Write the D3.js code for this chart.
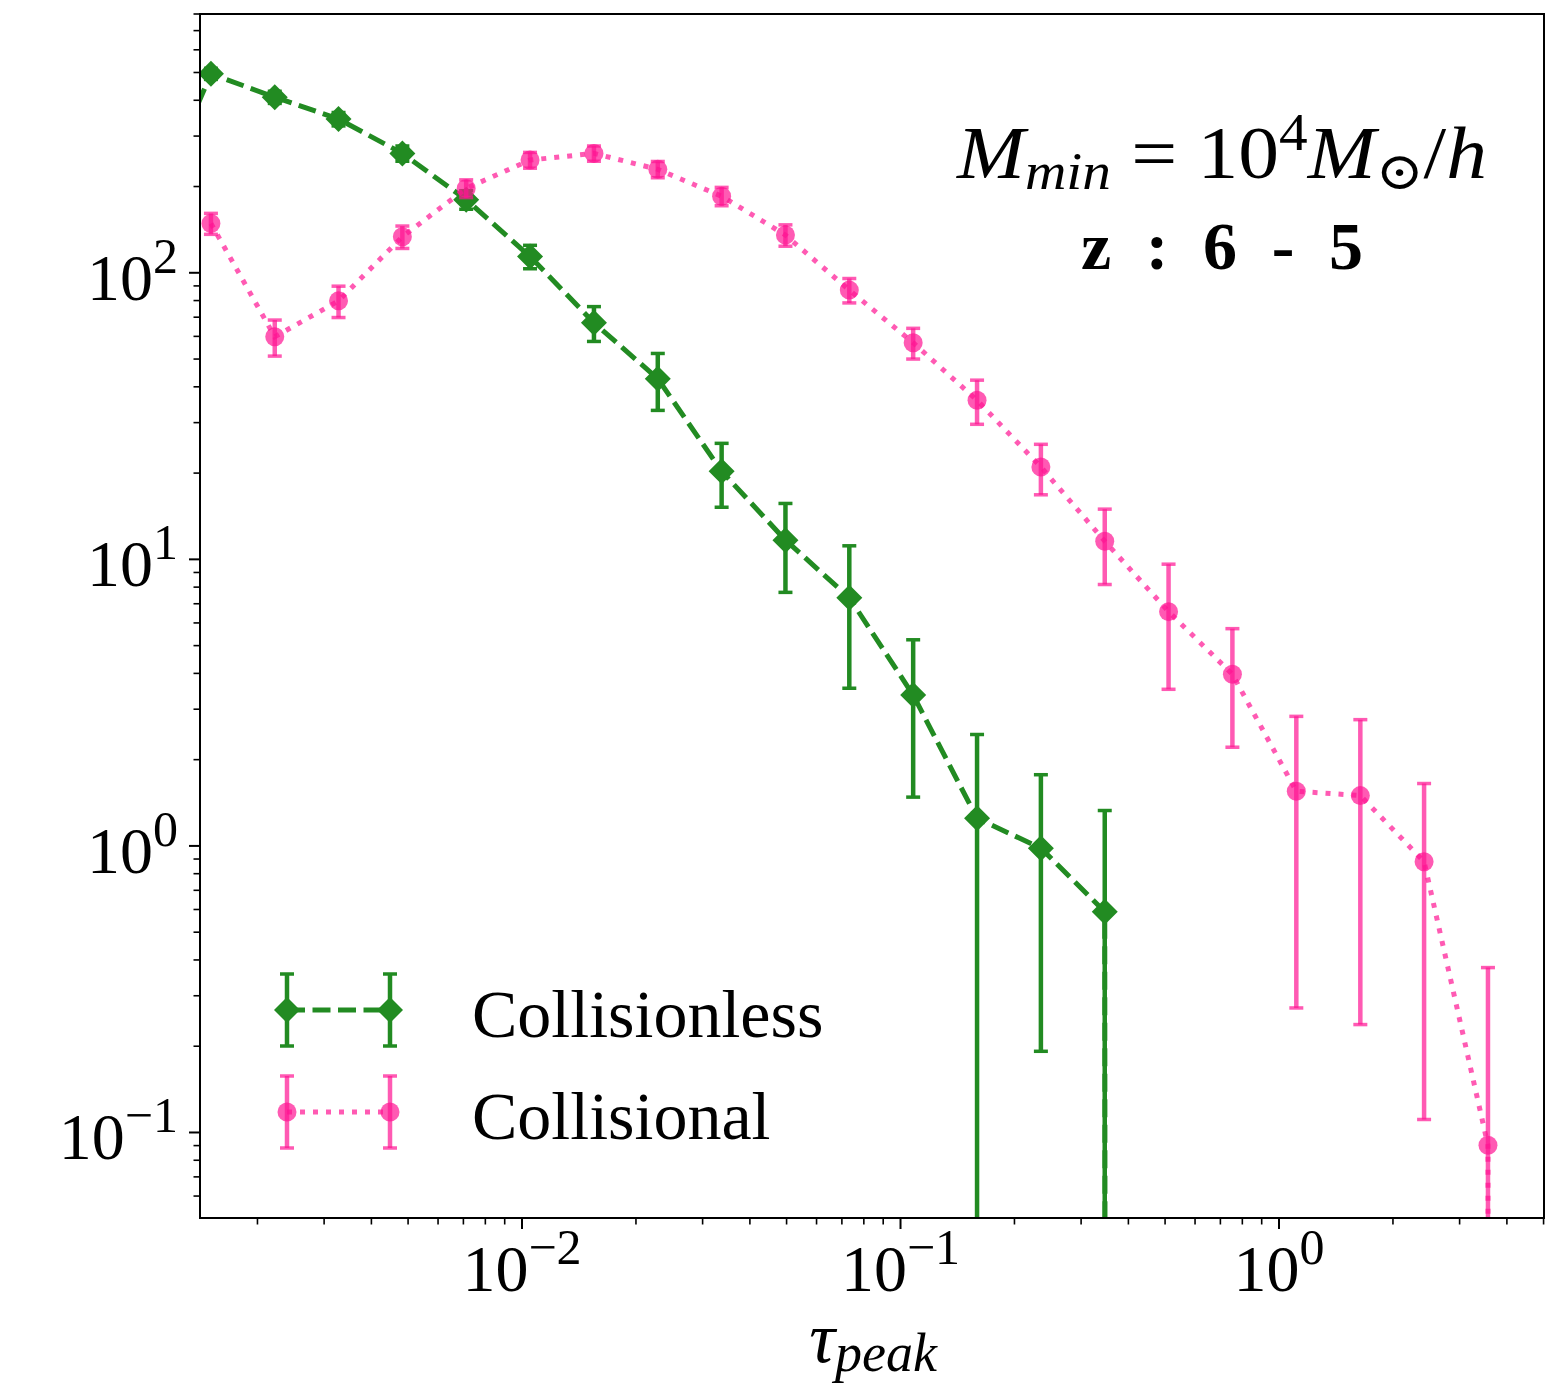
<!DOCTYPE html>
<html><head><meta charset="utf-8">
<script src="https://cdn.jsdelivr.net/npm/d3@7"></script>
<style>body{margin:0;background:#fff} svg{display:block}</style>
</head><body><svg id="chart" width="1558" height="1391"></svg>
<script>
// ---- data ----
const tau = [0.001022, 0.001507, 0.002222, 0.003275, 0.004829, 0.007120, 0.01050, 0.01549, 0.02284, 0.03368, 0.04966, 0.07323, 0.1080, 0.1593, 0.2349, 0.3464, 0.5107, 0.7531, 1.111, 1.640, 2.417, 3.565, 5.26];
const collisionless = [150, 495, 410, 344, 261, 180, 114, 66.9, 42.7, 20.3, 11.67, 7.35, 3.36, 1.248, 0.982, 0.589, 0, 0, 0, 0, 0, 0, 0];
const collisionlessErr = [12, 22, 20, 18.5, 16, 13.4, 10.7, 9.3, 9.6, 5.1, 4.0, 3.8, 1.88, 1.20, 0.79, 0.74, 0, 0, 0, 0, 0, 0, 0];
const collisional = [null, 148.7, 59.8, 79.8, 133.6, 197, 247.4, 261, 229.6, 185, 135.4, 87.0, 57.0, 35.9, 21.0, 11.57, 6.57, 3.97, 1.552, 1.498, 0.881, 0.0902, 0];
const collisionalErr = [null, 12.5, 8.6, 10, 12, 14, 15.7, 16, 15, 13.6, 11.6, 8.5, 7, 6.3, 4.2, 3.4, 3.05, 1.76, 1.28, 1.26, 0.77, 0.286, 0];
const seriesNames = ["Collisionless", "Collisional"];
const xMajor = [0.01, 0.1, 1];
const xMajorExp = ["\u22122", "\u22121", "0"];
const yMajor = [0.1, 1, 10, 100];
const yMajorExp = ["\u22121", "0", "1", "2"];
const xDomain = [0.00141, 5.013];
const yDomain = [0.0503, 800];

// ---- layout ----
const L = 200, R = 1544, T = 14, B = 1218;
const FONT = "'Liberation Serif', 'DejaVu Serif', serif";
const svg = d3.select("#chart");
const x = d3.scaleLog().domain(xDomain).range([L, R]);
const y = d3.scaleLog().domain(yDomain).range([B, T]);
const yc = v => y(Math.max(v, 1e-300));
const LW = 5, EW = 4.5, CAP = 7;
const greenDash = "18,7.5", pinkDash = "5,8";

svg.append("defs").append("clipPath").attr("id", "clip")
  .append("rect").attr("x", L).attr("y", T).attr("width", R - L).attr("height", B - T);

const plot = svg.append("g").attr("clip-path", "url(#clip)");

function drawSeries(vals, errs, style) {
  const pts = tau.map((t, i) => ({t, v: vals[i], e: errs[i]}));
  const g = plot.append("g");
  const line = d3.line().defined(d => d.v !== null).x(d => x(d.t)).y(d => yc(d.v));
  g.append("path").datum(pts).attr("d", line)
    .attr("fill", "none").attr("stroke", style.color).attr("stroke-opacity", style.alpha)
    .attr("stroke-width", LW).attr("stroke-dasharray", style.dash).attr("stroke-linecap", "butt");
  const valid = pts.filter(d => d.v !== null && d.v > 0);
  const eg = g.append("g").attr("stroke", style.color).attr("stroke-opacity", style.alpha);
  valid.forEach(d => {
    const cx = x(d.t);
    const y1 = yc(d.v - d.e), y2 = yc(d.v + d.e);
    eg.append("line").attr("x1", cx).attr("x2", cx).attr("y1", y1).attr("y2", y2).attr("stroke-width", EW);
    [y1, y2].forEach(yy => {
      if (yy < 5000) eg.append("line").attr("x1", cx - CAP).attr("x2", cx + CAP).attr("y1", yy).attr("y2", yy).attr("stroke-width", 3.5);
    });
  });
  valid.forEach(d => style.marker(g, x(d.t), yc(d.v)));
}

function diamond(g, cx, cy, c) {
  const r = 13;
  g.append("path").attr("d", `M${cx},${cy - r}L${cx + r},${cy}L${cx},${cy + r}L${cx - r},${cy}Z`).attr("fill", c);
}
function circle(g, cx, cy, c, a) {
  g.append("circle").attr("cx", cx).attr("cy", cy).attr("r", 9.5).attr("fill", c).attr("fill-opacity", a);
}

const green = "#228B22", pink = "#FF1493";
drawSeries(collisionless, collisionlessErr, {color: green, alpha: 1, dash: greenDash, marker: (g, cx, cy) => diamond(g, cx, cy, green)});
drawSeries(collisional, collisionalErr, {color: pink, alpha: 0.7, dash: pinkDash, marker: (g, cx, cy) => circle(g, cx, cy, pink, 0.7)});

// ---- axes ----
const ax = svg.append("g").attr("stroke", "#000");
x.ticks().forEach(t => {
  const major = xMajor.some(m => Math.abs(m - t) / m < 1e-6);
  ax.append("line").attr("x1", x(t)).attr("x2", x(t)).attr("y1", B).attr("y2", B + (major ? 11 : 6.5)).attr("stroke-width", major ? 2 : 1.6);
});
y.ticks().forEach(t => {
  const major = yMajor.some(m => Math.abs(m - t) / m < 1e-6);
  ax.append("line").attr("y1", y(t)).attr("y2", y(t)).attr("x1", L).attr("x2", L - (major ? 11 : 6.5)).attr("stroke-width", major ? 2 : 1.6);
});
svg.append("rect").attr("x", L).attr("y", T).attr("width", R - L).attr("height", B - T)
  .attr("fill", "none").attr("stroke", "#000").attr("stroke-width", 2);

xMajor.forEach((t, i) => {
  const tx = svg.append("text").attr("x", x(t)).attr("y", 1291).attr("text-anchor", "middle")
    .attr("font-family", FONT).attr("font-size", 66);
  tx.append("tspan").text("10");
  tx.append("tspan").attr("dy", -27).attr("font-size", 50).text(xMajorExp[i]);
});
yMajor.forEach((t, i) => {
  const tx = svg.append("text").attr("x", 178).attr("y", y(t) + 27).attr("text-anchor", "end")
    .attr("font-family", FONT).attr("font-size", 66);
  tx.append("tspan").text("10");
  tx.append("tspan").attr("dy", -27).attr("font-size", 50).text(yMajorExp[i]);
});

// x label
const xl = svg.append("text").attr("x", 873).attr("y", 1362).attr("text-anchor", "middle")
  .attr("font-family", FONT).attr("font-size", 72).attr("font-style", "italic");
xl.append("tspan").text("\u03C4");
xl.append("tspan").attr("dy", 9).attr("font-size", 54).text("peak");

// annotation
const a1 = svg.append("text").attr("x", 1222).attr("y", 178).attr("text-anchor", "middle")
  .attr("font-family", FONT).attr("font-size", 74)
  .attr("textLength", 530).attr("lengthAdjust", "spacingAndGlyphs");
a1.append("tspan").attr("font-style", "italic").text("M");
a1.append("tspan").attr("font-style", "italic").attr("font-size", 52).attr("dy", 11).text("min");
a1.append("tspan").attr("dy", -11).text(" = 10");
a1.append("tspan").attr("font-size", 52).attr("dy", -28).text("4");
a1.append("tspan").attr("font-style", "italic").attr("dy", 28).text("M");
a1.append("tspan").attr("font-size", 52).attr("dy", 11).text("\u2299");
a1.append("tspan").attr("dy", -11).text("/");
a1.append("tspan").attr("font-style", "italic").text("h");

svg.append("text").attr("x", 1222).attr("y", 269).attr("text-anchor", "middle")
  .attr("font-family", FONT).attr("font-size", 68).attr("font-weight", "bold")
  .attr("textLength", 282).attr("lengthAdjust", "spacing").text("z : 6 - 5");

// ---- legend ----
const leg = svg.append("g");
const legItems = [
  {name: seriesNames[0], color: green, alpha: 1, dash: greenDash, cy: 1010, mk: (g, cx, cy) => diamond(g, cx, cy, green)},
  {name: seriesNames[1], color: pink, alpha: 0.7, dash: pinkDash, cy: 1112, mk: (g, cx, cy) => circle(g, cx, cy, pink, 0.7)}
];
legItems.forEach(it => {
  const g = leg.append("g");
  g.append("line").attr("x1", 287).attr("x2", 390).attr("y1", it.cy).attr("y2", it.cy)
    .attr("stroke", it.color).attr("stroke-opacity", it.alpha).attr("stroke-width", LW).attr("stroke-dasharray", it.dash);
  [287, 390].forEach(cx => {
    g.append("line").attr("x1", cx).attr("x2", cx).attr("y1", it.cy - 36).attr("y2", it.cy + 36)
      .attr("stroke", it.color).attr("stroke-opacity", it.alpha).attr("stroke-width", EW);
    [it.cy - 36, it.cy + 36].forEach(yy => g.append("line").attr("x1", cx - CAP).attr("x2", cx + CAP).attr("y1", yy).attr("y2", yy)
      .attr("stroke", it.color).attr("stroke-opacity", it.alpha).attr("stroke-width", 3.5));
    it.mk(g, cx, it.cy);
  });
  g.append("text").attr("x", 472).attr("y", it.cy + 27).attr("font-family", FONT).attr("font-size", 68).text(it.name);
});
</script></body></html>
